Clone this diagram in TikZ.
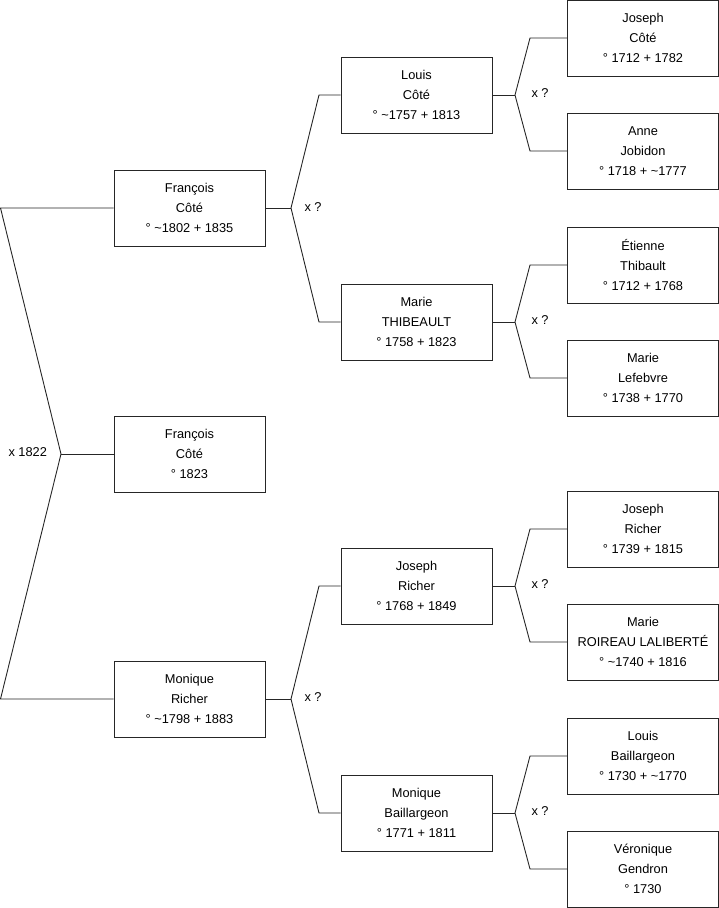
\documentclass[tikz,border=0pt]{standalone}
\usepackage{fontspec}
\setmainfont{Liberation Sans}
\begin{document}
\begin{tikzpicture}[x=1pt,y=-1pt,
        person/.style={draw=black!85,line width=0.9pt,fill=white,minimum width=151pt,minimum height=76pt,inner sep=0pt,align=center,font=\fontsize{12.8}{19.8}\selectfont},
        link/.style={draw=black!85,line width=0.9pt},
        mar/.style={anchor=west,font=\fontsize{12.8}{14}\selectfont}]
        \useasboundingbox (0,0) rectangle (719,908);
        \node[person] (A1) at (189.5, 208) {François\\Côté\\° \textasciitilde1802 + 1835};
        \node[person] (A2) at (189.5, 454) {François\\Côté\\° 1823};
        \node[person] (A3) at (189.5, 699) {Monique\\Richer\\° \textasciitilde1798 + 1883};
        \node[person] (B1) at (416.5, 95) {Louis\\Côté\\° \textasciitilde1757 + 1813};
        \node[person] (B2) at (416.5, 322) {Marie\\THIBEAULT\\° 1758 + 1823};
        \node[person] (B3) at (416.5, 586) {Joseph\\Richer\\° 1768 + 1849};
        \node[person] (B4) at (416.5, 813) {Monique\\Baillargeon\\° 1771 + 1811};
        \node[person] (C1) at (643, 38) {Joseph\\Côté\\° 1712 + 1782};
        \node[person] (C2) at (643, 151) {Anne\\Jobidon\\° 1718 + \textasciitilde1777};
        \node[person] (C3) at (643, 265) {Étienne\\Thibault\\° 1712 + 1768};
        \node[person] (C4) at (643, 378) {Marie\\Lefebvre\\° 1738 + 1770};
        \node[person] (C5) at (643, 529) {Joseph\\Richer\\° 1739 + 1815};
        \node[person] (C6) at (643, 642) {Marie\\ROIREAU LALIBERTÉ\\° \textasciitilde1740 + 1816};
        \node[person] (C7) at (643, 756) {Louis\\Baillargeon\\° 1730 + \textasciitilde1770};
        \node[person] (C8) at (643, 869) {Véronique\\Gendron\\° 1730};
        \coordinate (F0) at (61, 454);
        \coordinate (F0a) at (0.5, 208);
        \coordinate (F0b) at (0.5, 699);
        \coordinate (F1) at (291, 208);
        \coordinate (F1a) at (319, 95);
        \coordinate (F1b) at (319, 322);
        \coordinate (F2) at (291, 699);
        \coordinate (F2a) at (319, 586);
        \coordinate (F2b) at (319, 813);
        \coordinate (F3) at (515, 95);
        \coordinate (F3a) at (530, 38);
        \coordinate (F3b) at (530, 151);
        \coordinate (F4) at (515, 322);
        \coordinate (F4a) at (530, 265);
        \coordinate (F4b) at (530, 378);
        \coordinate (F5) at (515, 586);
        \coordinate (F5a) at (530, 529);
        \coordinate (F5b) at (530, 642);
        \coordinate (F6) at (515, 813);
        \coordinate (F6a) at (530, 756);
        \coordinate (F6b) at (530, 869);
        \node[mar] (M0) at (5, 452) {x 1822};
        \node[mar] (M1) at (301, 207) {x ?};
        \node[mar] (M2) at (301, 697) {x ?};
        \node[mar] (M3) at (528, 93) {x ?};
        \node[mar] (M4) at (528, 320) {x ?};
        \node[mar] (M5) at (528, 584) {x ?};
        \node[mar] (M6) at (528, 811) {x ?};
        \draw[link] (A1.west) -- (F0a) -- (F0) -- (F0b) -- (A3.west);
        \draw[link] (F0) -- (A2.west);
        \draw[link] (B1.west) -- (F1a) -- (F1) -- (F1b) -- (B2.west);
        \draw[link] (F1) -- (A1.east);
        \draw[link] (B3.west) -- (F2a) -- (F2) -- (F2b) -- (B4.west);
        \draw[link] (F2) -- (A3.east);
        \draw[link] (C1.west) -- (F3a) -- (F3) -- (F3b) -- (C2.west);
        \draw[link] (F3) -- (B1.east);
        \draw[link] (C3.west) -- (F4a) -- (F4) -- (F4b) -- (C4.west);
        \draw[link] (F4) -- (B2.east);
        \draw[link] (C5.west) -- (F5a) -- (F5) -- (F5b) -- (C6.west);
        \draw[link] (F5) -- (B3.east);
        \draw[link] (C7.west) -- (F6a) -- (F6) -- (F6b) -- (C8.west);
        \draw[link] (F6) -- (B4.east);
      \end{tikzpicture}
\end{document}
